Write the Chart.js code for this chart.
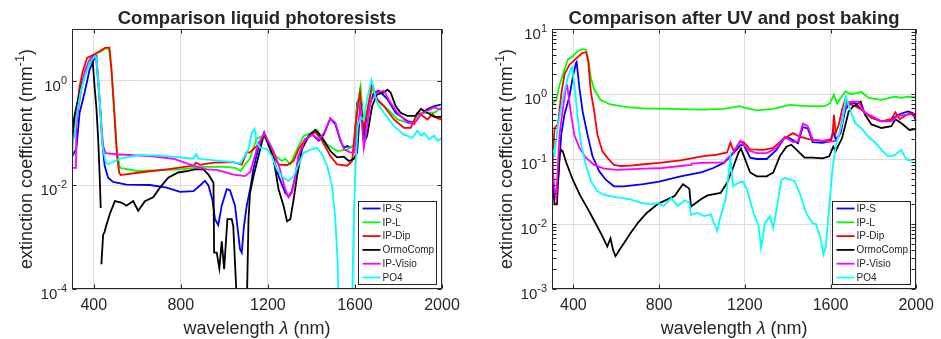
<!DOCTYPE html>
<html>
<head>
<meta charset="UTF-8">
<title>Comparison of photoresist extinction coefficients</title>
<script src="https://cdn.jsdelivr.net/npm/chart.js"></script>
<style>
  html, body { margin: 0; padding: 0; background: #fff; }
  #wrap { position: relative; width: 941px; height: 339px; }
  canvas { position: absolute; top: 0; }
</style>
</head>
<body>
<div id="wrap">
  <canvas id="left" width="470" height="339" style="left:0"></canvas>
  <canvas id="right" width="471" height="339" style="left:470px"></canvas>
</div>
<script>
// names + MATLAB colours (b, g, r, k, m, c)
const seriesNames = ['IP-S', 'IP-L', 'IP-Dip', 'OrmoComp', 'IP-Visio', 'PO4'];
const seriesColors = ['#0000ff', '#00ff00', '#ff0000', '#000000', '#ff00ff', '#00ffff'];
const xTicks = [400, 800, 1200, 1600, 2000];
const leftYTicks = [1e-4, 1e-2, 1];
const rightYTicks = [1e-3, 1e-2, 1e-1, 1, 10];

// ---- left panel: liquid resists (wavelength nm / extinction 1/mm) ----
const liqIPS_wl = [300, 320, 335, 358, 381, 404, 412, 427, 438, 450, 466, 489, 550, 658, 735, 796, 858, 888, 911, 927, 945, 957, 972, 988, 1011, 1026, 1049, 1072, 1080, 1090, 1103, 1115, 1121, 1133, 1156, 1183, 1218, 1249, 1280, 1295, 1310, 1326, 1341, 1372, 1403, 1434, 1457, 1487, 1510, 1533, 1549, 1565, 1580, 1598, 1610, 1625, 1641, 1656, 1687, 1710, 1749, 1787, 1841, 1872, 1903, 1933, 1964, 2000];
const liqIPS_k = [0.035, 0.05, 0.245, 0.6, 1.66, 2.8, 3.0, 0.45, 0.076, 0.0235, 0.0138, 0.0115, 0.0102, 0.01, 0.0089, 0.0074, 0.0076, 0.0098, 0.012, 0.0098, 0.0052, 0.0022, 0.0017, 0.004, 0.0083, 0.0079, 0.004, 0.00058, 0.0005, 0.0016, 0.004, 0.0071, 0.0095, 0.02, 0.052, 0.1, 0.043, 0.0148, 0.0071, 0.006, 0.0076, 0.0148, 0.036, 0.076, 0.093, 0.071, 0.093, 0.19, 0.148, 0.071, 0.052, 0.056, 0.052, 0.06, 0.38, 0.51, 0.087, 0.245, 0.6, 0.65, 0.45, 0.245, 0.17, 0.158, 0.23, 0.29, 0.33, 0.355];

const liqIPL_wl = [300, 305, 320, 340, 360, 380, 400, 430, 458, 470, 481, 497, 507, 520, 600, 800, 900, 1000, 1050, 1075, 1095, 1117, 1147, 1180, 1226, 1264, 1280, 1303, 1334, 1364, 1426, 1472, 1518, 1564, 1595, 1610, 1626, 1641, 1660, 1680, 1702, 1749, 1795, 1841, 1872, 1903, 1933, 1964, 2000];
const liqIPL_k = [0.025, 0.1, 0.25, 0.79, 1.58, 2.6, 3.2, 3.6, 4.3, 4.0, 1.58, 0.2, 0.045, 0.0214, 0.0186, 0.02, 0.0224, 0.0224, 0.0214, 0.0186, 0.025, 0.032, 0.076, 0.091, 0.039, 0.029, 0.032, 0.025, 0.049, 0.087, 0.115, 0.06, 0.045, 0.048, 0.058, 0.316, 0.78, 0.135, 0.316, 0.76, 0.42, 0.29, 0.182, 0.158, 0.158, 0.245, 0.245, 0.245, 0.31];

const liqDip_wl = [300, 310, 320, 335, 350, 370, 400, 430, 454, 472, 481, 497, 507, 517, 523, 612, 735, 858, 870, 888, 950, 1042, 1080, 1103, 1115, 1149, 1183, 1226, 1249, 1288, 1318, 1341, 1372, 1418, 1449, 1487, 1518, 1564, 1587, 1602, 1623, 1638, 1655, 1679, 1702, 1733, 1779, 1825, 1856, 1887, 1910, 1933, 1956, 1979, 2000];
const liqDip_k = [0.063, 0.141, 0.245, 0.79, 1.58, 2.8, 3.2, 3.8, 4.4, 4.4, 1.8, 0.16, 0.035, 0.0174, 0.0155, 0.0174, 0.02, 0.0235, 0.027, 0.0245, 0.027, 0.0275, 0.0245, 0.043, 0.042, 0.056, 0.093, 0.036, 0.025, 0.024, 0.029, 0.049, 0.076, 0.105, 0.071, 0.036, 0.025, 0.0235, 0.029, 0.135, 0.6, 0.102, 0.25, 0.87, 0.45, 0.33, 0.182, 0.126, 0.126, 0.245, 0.214, 0.182, 0.23, 0.19, 0.182];

// null = break in the measured curve
const liqOrmo_wl = [300, 310, 320, 340, 360, 375, 389, 394, 404, 412, 420, 427, 432, 433, 435, 443, 450, 458, 474, 497, 527, 550, 581, 604, 635, 673, 704, 742, 788, 834, 865, 904, 927, 950, 953, 965, 977, 988, 999, 1014, 1034, 1041, 1054, 1060, 1100, 1111, 1118, 1134, 1157, 1183, 1226, 1249, 1272, 1288, 1303, 1318, 1334, 1357, 1387, 1418, 1449, 1487, 1518, 1549, 1572, 1595, 1610, 1626, 1641, 1656, 1679, 1702, 1733, 1749, 1764, 1787, 1810, 1841, 1879, 1903, 1933, 1964, 2000];
const liqOrmo_k = [0.063, 0.2, 0.316, 0.71, 1.41, 2.0, 2.5, 2.8, 0.76, 0.31, 0.081, 0.0158, 0.0036, null, 0.0003, 0.0011, 0.00126, 0.0017, 0.0028, 0.0049, 0.0046, 0.004, 0.0049, 0.0032, 0.0049, 0.0058, 0.0089, 0.0138, 0.0174, 0.0186, 0.02, 0.02, 0.0158, 0.011, 0.0005, 0.0005, 0.00025, 0.00083, 0.00024, 0.0022, 0.0022, 0.0016, 0.000115, 0.00001, 0.00001, 0.0022, 0.0071, 0.0148, 0.036, 0.1, 0.032, 0.0083, 0.004, 0.002, 0.0022, 0.0052, 0.0148, 0.049, 0.087, 0.115, 0.081, 0.045, 0.034, 0.035, 0.029, 0.032, 0.042, 0.38, 0.065, 0.089, 0.33, 0.55, 0.6, 0.68, 0.6, 0.33, 0.245, 0.214, 0.214, 0.29, 0.245, 0.204, 0.204];

const liqVisio_wl = [300, 318, 320, 330, 345, 360, 380, 400, 410, 427, 443, 455, 504, 658, 765, 858, 919, 965, 1042, 1095, 1119, 1149, 1183, 1226, 1249, 1280, 1295, 1310, 1326, 1341, 1372, 1403, 1434, 1457, 1487, 1510, 1533, 1549, 1580, 1598, 1612, 1626, 1641, 1672, 1702, 1733, 1764, 1795, 1841, 1872, 1903, 1933, 1964, 2000];
const liqVisio_k = [0.0214, 0.0214, 0.126, 0.316, 0.79, 1.58, 2.5, 3.0, 3.0, 0.4, 0.056, 0.041, 0.039, 0.036, 0.032, 0.0235, 0.02, 0.0195, 0.0158, 0.0148, 0.0178, 0.049, 0.1, 0.045, 0.025, 0.0083, 0.0058, 0.0071, 0.0148, 0.036, 0.076, 0.093, 0.076, 0.1, 0.19, 0.158, 0.076, 0.049, 0.042, 0.042, 0.126, 0.316, 0.052, 0.42, 0.6, 0.65, 0.38, 0.245, 0.158, 0.148, 0.23, 0.27, 0.31, 0.28];

const liqPO4_wl = [300, 310, 320, 340, 360, 380, 404, 412, 427, 440, 455, 466, 520, 612, 735, 858, 870, 880, 965, 1042, 1073, 1111, 1126, 1139, 1149, 1165, 1195, 1218, 1241, 1272, 1295, 1318, 1341, 1364, 1403, 1426, 1449, 1472, 1495, 1510, 1521, 1528, 1585, 1590, 1595, 1603, 1613, 1626, 1641, 1656, 1676, 1702, 1733, 1779, 1825, 1864, 1887, 1903, 1918, 1941, 1964, 1979, 2000];
const liqPO4_k = [0.071, 0.079, 0.2, 0.63, 1.26, 2.2, 2.95, 2.8, 0.45, 0.056, 0.027, 0.025, 0.032, 0.038, 0.036, 0.032, 0.039, 0.032, 0.0295, 0.0275, 0.026, 0.049, 0.1, 0.12, 0.065, 0.052, 0.049, 0.036, 0.02, 0.0138, 0.012, 0.0148, 0.025, 0.042, 0.049, 0.052, 0.039, 0.0235, 0.0095, 0.0022, 0.00028, 0.00001, 0.00001, 0.00025, 0.0025, 0.0235, 0.135, 0.2, 0.178, 0.45, 1.05, 0.38, 0.245, 0.135, 0.093, 0.081, 0.11, 0.089, 0.1, 0.076, 0.089, 0.071, 0.081];

// ---- right panel: after UV exposure and post bake ----
const bakIPS_wl = [300, 312, 328, 343, 358, 381, 397, 412, 415, 428, 443, 466, 489, 520, 551, 589, 635, 727, 800, 900, 1000, 1050, 1102, 1133, 1179, 1194, 1225, 1256, 1302, 1348, 1386, 1409, 1448, 1471, 1494, 1517, 1563, 1601, 1613, 1624, 1647, 1669, 1692, 1715, 1745, 1791, 1838, 1884, 1915, 1961, 1984, 2000];
const bakIPS_k = [0.063, 0.025, 0.044, 0.235, 0.48, 0.91, 1.8, 3.0, 3.1, 1.23, 0.54, 0.235, 0.11, 0.065, 0.048, 0.038, 0.038, 0.041, 0.045, 0.054, 0.063, 0.072, 0.087, 0.11, 0.162, 0.166, 0.105, 0.1, 0.1, 0.138, 0.214, 0.21, 0.174, 0.31, 0.295, 0.182, 0.178, 0.19, 0.27, 0.2, 0.25, 0.575, 0.74, 0.72, 0.575, 0.43, 0.38, 0.4, 0.48, 0.54, 0.51, 0.38];

const bakIPL_wl = [300, 320, 335, 351, 374, 397, 420, 443, 459, 469, 481, 497, 527, 573, 650, 727, 857, 1000, 1102, 1179, 1194, 1256, 1333, 1409, 1486, 1574, 1597, 1616, 1631, 1669, 1692, 1715, 1745, 1777, 1838, 1900, 1931, 1961, 2000];
const bakIPL_k = [0.69, 0.81, 1.38, 2.0, 3.4, 3.8, 4.6, 4.9, 4.8, 3.5, 1.8, 1.17, 0.81, 0.69, 0.63, 0.6, 0.59, 0.575, 0.59, 0.65, 0.62, 0.56, 0.59, 0.68, 0.65, 0.65, 0.72, 0.98, 0.72, 1.1, 1.0, 1.02, 1.07, 0.87, 0.81, 0.91, 0.87, 0.91, 0.89];

const bakDip_wl = [300, 312, 328, 343, 358, 381, 412, 443, 459, 469, 481, 497, 512, 535, 558, 589, 620, 666, 727, 800, 900, 1000, 1071, 1117, 1133, 1148, 1179, 1194, 1225, 1287, 1333, 1379, 1425, 1456, 1502, 1563, 1601, 1609, 1616, 1624, 1639, 1654, 1669, 1692, 1715, 1745, 1791, 1838, 1884, 1903, 1923, 1946, 1969, 2000];
const bakDip_k = [0.065, 0.3, 0.34, 0.98, 2.0, 2.8, 3.5, 4.3, 4.4, 3.2, 1.1, 0.54, 0.235, 0.132, 0.105, 0.081, 0.078, 0.079, 0.083, 0.087, 0.095, 0.11, 0.117, 0.126, 0.178, 0.132, 0.186, 0.182, 0.141, 0.138, 0.148, 0.204, 0.25, 0.22, 0.2, 0.19, 0.2, 0.224, 0.48, 0.25, 0.34, 0.575, 0.83, 0.69, 0.65, 0.575, 0.43, 0.38, 0.41, 0.525, 0.41, 0.46, 0.51, 0.44];

const bakOrmo_wl = [300, 312, 323, 335, 343, 350, 366, 397, 430, 473, 505, 535, 558, 573, 585, 596, 604, 615, 635, 666, 704, 742, 795, 872, 911, 941, 949, 995, 1026, 1087, 1117, 1148, 1171, 1182, 1202, 1225, 1256, 1302, 1333, 1363, 1394, 1417, 1448, 1479, 1517, 1563, 1594, 1613, 1624, 1654, 1685, 1707, 1730, 1741, 1761, 1791, 1838, 1884, 1903, 1931, 1969, 2000];
const bakOrmo_k = [0.072, 0.02, 0.02, 0.117, 0.138, 0.132, 0.089, 0.048, 0.028, 0.0158, 0.01, 0.0065, 0.0045, 0.006, 0.004, 0.0032, 0.0035, 0.004, 0.005, 0.0072, 0.0107, 0.0148, 0.0204, 0.027, 0.041, 0.035, 0.0186, 0.024, 0.0275, 0.030, 0.043, 0.078, 0.126, 0.145, 0.098, 0.062, 0.054, 0.054, 0.062, 0.11, 0.155, 0.166, 0.132, 0.105, 0.105, 0.102, 0.11, 0.155, 0.132, 0.21, 0.54, 0.65, 0.72, 0.76, 0.48, 0.34, 0.3, 0.32, 0.41, 0.355, 0.28, 0.29];

const bakVisio_wl = [300, 305, 312, 320, 335, 351, 366, 371, 389, 404, 428, 458, 497, 543, 604, 727, 800, 900, 949, 951, 1000, 1102, 1148, 1179, 1218, 1256, 1302, 1348, 1386, 1425, 1448, 1471, 1494, 1517, 1563, 1601, 1624, 1640, 1660, 1677, 1700, 1730, 1761, 1791, 1838, 1884, 1915, 1961, 2000];
const bakVisio_k = [0.126, 0.063, 0.032, 0.025, 0.235, 0.6, 1.32, 1.35, 0.48, 0.235, 0.148, 0.105, 0.081, 0.071, 0.068, 0.071, 0.072, 0.078, 0.081, 0.085, 0.087, 0.089, 0.129, 0.19, 0.135, 0.123, 0.123, 0.148, 0.22, 0.182, 0.186, 0.35, 0.32, 0.2, 0.19, 0.186, 0.19, 0.224, 0.5, 0.74, 0.76, 0.76, 0.51, 0.46, 0.38, 0.38, 0.46, 0.48, 0.5];

const bakPO4_wl = [300, 312, 328, 351, 374, 389, 394, 408, 420, 436, 459, 481, 512, 543, 604, 666, 712, 758, 795, 820, 857, 887, 918, 941, 949, 980, 1010, 1041, 1071, 1087, 1110, 1133, 1145, 1171, 1191, 1210, 1241, 1264, 1276, 1294, 1317, 1333, 1348, 1371, 1386, 1409, 1432, 1456, 1486, 1517, 1532, 1555, 1567, 1578, 1594, 1609, 1624, 1654, 1672, 1692, 1715, 1745, 1777, 1807, 1838, 1869, 1900, 1931, 1954, 1977, 2000];
const bakPO4_k = [0.148, 0.117, 0.34, 0.87, 1.8, 2.5, 2.6, 1.1, 0.43, 0.166, 0.081, 0.046, 0.032, 0.028, 0.0257, 0.024, 0.0214, 0.02, 0.021, 0.019, 0.025, 0.019, 0.023, 0.0214, 0.0138, 0.0148, 0.0132, 0.0141, 0.0078, 0.0132, 0.0235, 0.105, 0.038, 0.043, 0.045, 0.034, 0.0148, 0.0093, 0.0043, 0.0102, 0.0132, 0.0087, 0.0166, 0.048, 0.051, 0.049, 0.046, 0.030, 0.0148, 0.0102, 0.01, 0.0058, 0.0034, 0.0045, 0.0186, 0.069, 0.158, 0.355, 0.91, 0.575, 0.355, 0.295, 0.22, 0.182, 0.138, 0.11, 0.115, 0.138, 0.098, 0.095, 0.1];

const axisColor = '#262626';
const fam = '"Liberation Sans", Arial, Helvetica, sans-serif';

// MATLAB-ish decorations: box, inward ticks, 10^n labels, axis titles, legend
const matlabAxes = {
  id: 'matlabAxes',
  afterDatasetsDraw(chart, args, o) {
    const { ctx, chartArea: a } = chart;
    const xs = chart.scales.x, ys = chart.scales.y;
    const L = Math.round(a.left) + 0.5, R = Math.round(a.right) - 0.5;
    const T = Math.round(a.top) + 0.5, B = Math.round(a.bottom) - 0.5;
    ctx.save();

    // legend
    const bw = 78, bh = 83;
    const bx = Math.round(a.right) - 6 - bw + 0.5, by = Math.round(a.bottom) - 5 - bh + 0.5;
    ctx.fillStyle = '#fff';
    ctx.fillRect(bx, by, bw, bh);
    ctx.strokeStyle = axisColor; ctx.lineWidth = 1;
    ctx.strokeRect(bx, by, bw, bh);
    ctx.font = '10px ' + fam;
    ctx.textBaseline = 'middle'; ctx.textAlign = 'left';
    chart.data.datasets.forEach((d, i) => {
      const yy = by + 7 + i * 13.8;
      ctx.strokeStyle = d.borderColor; ctx.lineWidth = 1.8;
      ctx.beginPath(); ctx.moveTo(bx + 4, yy); ctx.lineTo(bx + 22, yy); ctx.stroke();
      ctx.fillStyle = axisColor;
      ctx.fillText(d.label, bx + 24, yy + 0.5);
    });

    // box + ticks
    ctx.strokeStyle = axisColor; ctx.lineWidth = 1;
    ctx.strokeRect(L, T, R - L, B - T);
    ctx.beginPath();
    xTicks.forEach(v => {
      const px = Math.round(xs.getPixelForValue(v)) + 0.5;
      ctx.moveTo(px, B); ctx.lineTo(px, B - 4);
      ctx.moveTo(px, T); ctx.lineTo(px, T + 4);
    });
    const yt = [...o.yTicks];
    if (o.minor) {
      for (let d = ys.min; d < ys.max; d *= 10)
        for (let m = 2; m <= 9; m++) yt.push(d * m);
    }
    yt.forEach(v => {
      const py = Math.round(ys.getPixelForValue(v)) + 0.5;
      ctx.moveTo(L, py); ctx.lineTo(L + 4, py);
      ctx.moveTo(R, py); ctx.lineTo(R - 4, py);
    });
    ctx.stroke();

    // 10^n tick labels
    ctx.fillStyle = axisColor;
    ctx.textBaseline = 'alphabetic'; ctx.textAlign = 'left';
    o.yTicks.forEach(v => {
      const py = ys.getPixelForValue(v);
      const ex = String(Math.round(Math.log10(v)));
      ctx.font = '15px ' + fam; const wb = ctx.measureText('10').width;
      ctx.font = '11px ' + fam; const we = ctx.measureText(ex).width;
      const x0 = a.left - 5 - wb - we;
      ctx.font = '15px ' + fam; ctx.fillText('10', x0, py + 9.5);
      ctx.font = '11px ' + fam; ctx.fillText(ex, x0 + wb, py + 2.5);
    });

    // title
    const cx = (a.left + a.right) / 2;
    ctx.textAlign = 'center';
    ctx.font = 'bold 18.5px ' + fam;
    ctx.fillText(o.title, cx, 24);

    // x title: wavelength λ (nm)
    ctx.textAlign = 'left';
    ctx.font = '18px ' + fam; const w1 = ctx.measureText('wavelength ').width;
    ctx.font = 'italic 18px ' + fam; const w2 = ctx.measureText('λ').width;
    ctx.font = '18px ' + fam; const w3 = ctx.measureText(' (nm)').width;
    let xx = cx - (w1 + w2 + w3) / 2;
    ctx.fillText('wavelength ', xx, 334); xx += w1;
    ctx.font = 'italic 18px ' + fam; ctx.fillText('λ', xx, 334); xx += w2;
    ctx.font = '18px ' + fam; ctx.fillText(' (nm)', xx, 334);

    // y title with superscript
    ctx.translate(o.yTitleX, (a.top + a.bottom) / 2);
    ctx.rotate(-Math.PI / 2);
    const s1 = 'extinction coefficient (mm', s2 = '-1', s3 = ')';
    ctx.font = '18px ' + fam; const v1 = ctx.measureText(s1).width, v3 = ctx.measureText(s3).width;
    ctx.font = '12.5px ' + fam; const v2 = ctx.measureText(s2).width;
    let yx = -(v1 + v2 + v3) / 2;
    ctx.font = '18px ' + fam; ctx.fillText(s1, yx, 0); yx += v1;
    ctx.font = '12.5px ' + fam; ctx.fillText(s2, yx, -8.5); yx += v2;
    ctx.font = '18px ' + fam; ctx.fillText(s3, yx, 0);
    ctx.restore();
  }
};

function makePanel(id, series, yMin, yTicks, p) {
  const canvas = document.getElementById(id);
  const datasets = series.map((s, i) => ({
    label: seriesNames[i],
    data: s[0].map((w, j) => ({ x: w, y: s[1][j] })),
    borderColor: seriesColors[i],
    borderWidth: 1.8,
    pointRadius: 0,
    tension: 0,
    fill: false,
    spanGaps: false,
    order: series.length - i   // later series drawn on top, as in MATLAB
  }));
  const grid = { color: '#dedede', lineWidth: 1, drawTicks: false };
  return new Chart(canvas, {
    type: 'line',
    data: { datasets },
    options: {
      responsive: false,
      animation: false,
      devicePixelRatio: 1,
      layout: { padding: { top: 29, right: canvas.width - p.right, left: 0, bottom: 0 } },
      plugins: {
        legend: { display: false },
        tooltip: { enabled: false },
        matlabAxes: { title: p.title, yTicks, minor: p.minor, yTitleX: p.yTitleX }
      },
      scales: {
        x: {
          type: 'linear', min: 300, max: 2000,
          afterBuildTicks: sc => { sc.ticks = xTicks.map(v => ({ value: v })); },
          afterFit: sc => { sc.height = 50; },
          grid, border: { display: false },
          ticks: { color: axisColor, font: { family: fam, size: 16 }, padding: 7, maxRotation: 0, autoSkip: false, callback: v => String(v) }
        },
        y: {
          type: 'logarithmic', min: yMin, max: 10,
          afterBuildTicks: sc => { sc.ticks = yTicks.map(v => ({ value: v })); },
          afterFit: sc => { sc.width = p.left; },
          grid, border: { display: false },
          ticks: { display: false }
        }
      }
    },
    plugins: [matlabAxes]
  });
}

makePanel('left', [
  [liqIPS_wl, liqIPS_k], [liqIPL_wl, liqIPL_k], [liqDip_wl, liqDip_k],
  [liqOrmo_wl, liqOrmo_k], [liqVisio_wl, liqVisio_k], [liqPO4_wl, liqPO4_k]
], 1e-4, leftYTicks, { left: 72, right: 442, title: 'Comparison liquid photoresists', minor: false, yTitleX: 32 });

makePanel('right', [
  [bakIPS_wl, bakIPS_k], [bakIPL_wl, bakIPL_k], [bakDip_wl, bakDip_k],
  [bakOrmo_wl, bakOrmo_k], [bakVisio_wl, bakVisio_k], [bakPO4_wl, bakPO4_k]
], 1e-3, rightYTicks, { left: 82, right: 452, title: 'Comparison after UV and post baking', minor: true, yTitleX: 42 });
</script>
</body>
</html>
